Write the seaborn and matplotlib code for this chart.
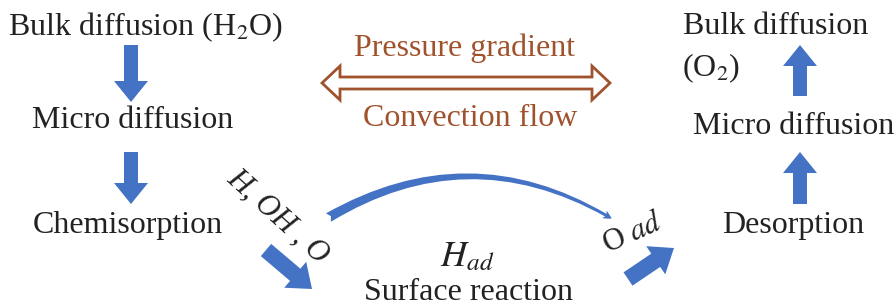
import matplotlib
matplotlib.use('Agg')
import matplotlib.pyplot as plt
import matplotlib.patches as mpatches
import seaborn as sns

# Texts of the diagram
left_labels = ['Bulk diffusion (H$_2$O)', 'Micro diffusion', 'Chemisorption']
right_labels = ['Bulk diffusion', 'Micro diffusion', 'Desorption']
right_note = '(O$_2$)'
flow_labels = ['Pressure gradient', 'Convection flow']
surface_label = 'Surface reaction'
species_in = 'H, OH , O'
species_mid = '$H_{ad}$'
species_out = r'O $ad$'

# Layout (pixel space, y downward)
left_pos = [(145, 27), (133, 121), (128, 225)]
right_pos = [(776, 26), (794, 127), (793, 226)]
flow_pos = [(465, 48), (470, 118)]
left_arrows = [(131, 45, 102), (131, 152, 204)]
right_arrows = [(800, 96, 45), (800, 204, 152)]

blue = '#4472C4'
brown = '#A0522D'

sns.set_theme(style='white')
plt.rcParams['font.family'] = ['Liberation Serif', 'DejaVu Serif']
plt.rcParams['mathtext.fontset'] = 'stix'

fig = plt.figure(figsize=(8.95, 3.06), dpi=100)
ax = fig.add_axes([0, 0, 1, 1])
ax.set_xlim(0, 895)
ax.set_ylim(306, 0)
ax.axis('off')

fs = 23

for (x, y), lab in zip(left_pos, left_labels):
    ax.text(x, y, lab, ha='center', va='center', fontsize=fs, color='#222222')
for (x, y), lab in zip(right_pos, right_labels):
    ax.text(x, y, lab, ha='center', va='center', fontsize=fs, color='#222222')
ax.text(682, 68, right_note, ha='left', va='center', fontsize=fs, color='#222222')

for (x, y), lab in zip(flow_pos, flow_labels):
    ax.text(x, y, lab, ha='center', va='center', fontsize=fs, color=brown)

ax.text(469, 292, surface_label, ha='center', va='center', fontsize=fs, color='#222222')
ax.text(467, 258, species_mid, ha='center', va='center', fontsize=fs + 3, color='#222222')
ax.text(278, 217, species_in, ha='center', va='center', fontsize=fs - 1,
        fontstyle='italic', rotation=-42, rotation_mode='anchor', color='#222222')
ax.text(633, 234, species_out, ha='center', va='center', fontsize=fs - 1,
        rotation=24, rotation_mode='anchor', color='#222222')

# vertical block arrows
for x, y0, y1 in left_arrows + right_arrows:
    ax.add_patch(mpatches.FancyArrow(x, y0, 0, y1 - y0, width=14, head_width=34,
                                     head_length=21, length_includes_head=True,
                                     color=blue, lw=0))

# diagonal block arrows
for (x0, y0), (x1, y1) in [((266, 250), (312, 289)), ((628, 279), (674, 248))]:
    ax.add_patch(mpatches.FancyArrow(x0, y0, x1 - x0, y1 - y0, width=16, head_width=34,
                                     head_length=22, length_includes_head=True,
                                     color=blue, lw=0))

# hollow double arrow
xl, xr, yc, sh, hh, hl = 322, 610, 83, 6, 17, 18
pts = [(xl, yc), (xl + hl, yc - hh), (xl + hl, yc - sh), (xr - hl, yc - sh),
       (xr - hl, yc - hh), (xr, yc), (xr - hl, yc + hh), (xr - hl, yc + sh),
       (xl + hl, yc + sh), (xl + hl, yc + hh)]
ax.add_patch(mpatches.Polygon(pts, closed=True, facecolor='white',
                              edgecolor=brown, lw=2, joinstyle='miter'))

# curved arrow over the surface reaction
ax.add_patch(mpatches.FancyArrowPatch((326, 219), (614, 220),
                                      connectionstyle='arc3,rad=-0.3',
                                      arrowstyle='fancy,head_length=6,head_width=6,tail_width=7',
                                      color=blue, lw=0))

fig.savefig('out.png', dpi=100)
